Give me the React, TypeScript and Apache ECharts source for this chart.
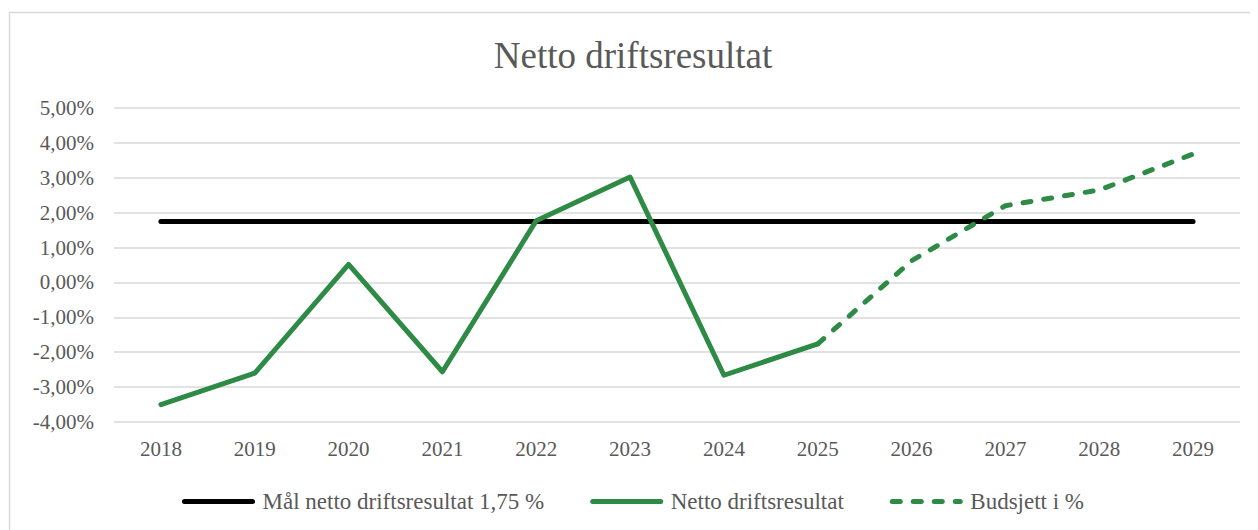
import React, { useEffect, useRef } from "react";
import * as echarts from "echarts";

const years = ["2018", "2019", "2020", "2021", "2022", "2023", "2024", "2025", "2026", "2027", "2028", "2029"];
const targetName = "Mål netto driftsresultat 1,75 %";
const actualName = "Netto driftsresultat";
const budgetName = "Budsjett i %";
const targetValues = [1.75, 1.75, 1.75, 1.75, 1.75, 1.75, 1.75, 1.75, 1.75, 1.75, 1.75, 1.75];
const actualValues = [-3.5, -2.6, 0.52, -2.56, 1.77, 3.02, -2.66, -1.76, null, null, null, null];
const budgetValues = [null, null, null, null, null, null, null, -1.76, 0.62, 2.2, 2.65, 3.68];

const FONT = "'Liberation Serif', 'Times New Roman', serif";
const TEXT = "#595959";
const GREEN = "#2e8b45";

export default function App() {
  const ref = useRef<HTMLDivElement>(null);
  useEffect(() => {
    const chart = echarts.init(ref.current!, null, { renderer: "svg" });
    chart.setOption({
      animation: false,
      backgroundColor: "#fff",
      title: {
        text: "Netto driftsresultat",
        left: "center",
        top: 24,
        textStyle: { fontFamily: FONT, fontSize: 37, fontWeight: "normal", color: TEXT },
      },
      graphic: [
        {
          type: "rect",
          shape: { x: 1.5, y: 4.5, width: 1400, height: 700 },
          style: { fill: "none", stroke: "#d9d9d9", lineWidth: 1.5 },
          silent: true,
        },
      ],
      legend: {
        bottom: 12,
        left: "center",
        itemWidth: 68,
        itemHeight: 12,
        itemGap: 46,
        itemStyle: { opacity: 0 },
        lineStyle: { width: 5, cap: "round" },
        textStyle: { fontFamily: FONT, fontSize: 23, color: TEXT, padding: [0, 0, 0, 5] },
        data: [targetName, actualName, budgetName],
      },
      grid: { left: 106, right: 18, top: 100, bottom: 108, containLabel: false },
      xAxis: {
        type: "category",
        data: years,
        boundaryGap: true,
        axisLine: { show: false },
        axisTick: { show: false },
        axisLabel: { fontFamily: FONT, fontSize: 21, color: TEXT, margin: 16 },
      },
      yAxis: {
        type: "value",
        min: -4,
        max: 5,
        interval: 1,
        axisLine: { show: false },
        axisTick: { show: false },
        splitLine: { lineStyle: { color: "#d9d9d9", width: 1.5 } },
        axisLabel: {
          fontFamily: FONT,
          fontSize: 21,
          color: TEXT,
          margin: 20,
          formatter: (v: number) => v.toFixed(2).replace(".", ",") + "%",
        },
      },
      series: [
        {
          name: targetName,
          type: "line",
          data: targetValues,
          symbol: "none",
          itemStyle: { color: "#000" },
          lineStyle: { color: "#000", width: 5, cap: "round" },
        },
        {
          name: actualName,
          type: "line",
          data: actualValues,
          symbol: "none",
          itemStyle: { color: GREEN },
          lineStyle: { color: GREEN, width: 5, cap: "round", join: "round" },
        },
        {
          name: budgetName,
          type: "line",
          data: budgetValues,
          symbol: "none",
          itemStyle: { color: GREEN },
          lineStyle: { color: GREEN, width: 5, type: [8, 13], cap: "round", join: "round" },
        },
      ],
    });
    return () => chart.dispose();
  }, []);
  return <div ref={ref} style={{ width: 1250, height: 522 }} />;
}
